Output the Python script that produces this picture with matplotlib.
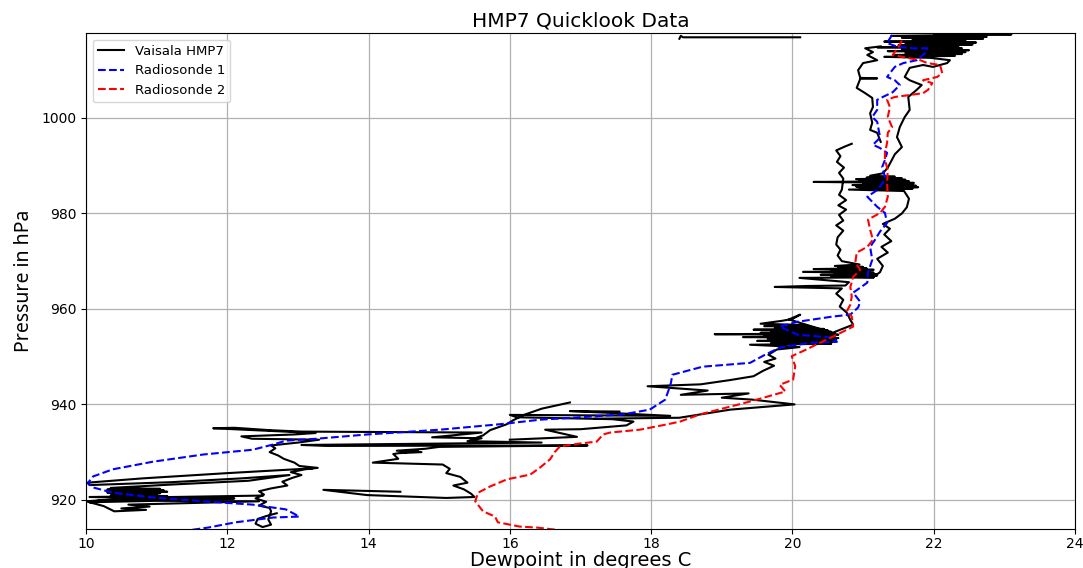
import numpy as np
import matplotlib
matplotlib.use("agg")
import matplotlib.pyplot as plt

# Radiosonde 1 profile (dewpoint degC, pressure hPa), top to bottom
rs1_dewpoint = [21.41, 21.34, 21.49, 21.71, 21.91, 21.88, 21.76, 21.57, 21.45, 21.38,
                21.34, 21.45, 21.52, 21.42, 21.28, 21.20, 21.20, 21.13, 21.20, 21.24,
                21.21, 21.14, 21.24, 21.34, 21.31, 21.27, 21.31, 21.28, 21.20, 21.06,
                21.20, 21.31, 21.34, 21.24, 21.17, 21.10, 21.13, 21.07, 21.06, 20.86,
                20.96, 20.93, 20.82, 20.57, 20.07, 19.82, 20.07, 20.57, 20.63, 20.25,
                19.82, 19.60, 19.40, 18.73, 18.30, 18.28, 18.25, 18.20, 17.98, 17.60,
                16.89, 16.43, 15.90, 15.01, 13.98, 13.26, 12.83, 12.65, 12.36, 11.66,
                10.95, 10.38, 10.10, 10.03, 10.10, 10.38, 10.95, 11.66, 12.36, 12.83,
                13.02, 12.65, 12.12, 11.73, 11.30]
rs1_pressure = [1017.4, 1015.7, 1014.9, 1014.6, 1014.6, 1013.6, 1012.1, 1011.5, 1010.7, 1009.4,
                1008.6, 1007.9, 1006.9, 1005.4, 1004.4, 1003.8, 1001.7, 1000.2, 999.2, 996.0,
                995.4, 994.4, 993.7, 992.7, 991.2, 989.7, 987.7, 986.4, 984.9, 983.5,
                981.4, 980.1, 978.0, 976.2, 974.5, 973.0, 970.3, 967.6, 965.5, 963.4,
                961.5, 960.3, 958.8, 958.4, 957.3, 956.3, 954.6, 954.0, 953.1, 952.9,
                951.9, 950.3, 948.7, 947.9, 946.2, 944.5, 943.1, 941.0, 938.9, 937.9,
                937.2, 936.8, 935.9, 934.7, 933.7, 932.8, 932.4, 931.6, 930.5, 929.5,
                928.0, 926.4, 924.9, 923.6, 922.6, 921.5, 920.5, 919.7, 919.0, 918.0,
                916.5, 916.3, 915.3, 914.2, 913.3]

# Radiosonde 2 profile
rs2_dewpoint = [21.55, 21.52, 21.42, 21.62, 21.81, 21.91, 22.09, 22.12, 22.05, 21.85,
                21.98, 21.92, 21.85, 21.66, 21.45, 21.34, 21.38, 21.35, 21.41, 21.35,
                21.34, 21.31, 21.31, 21.35, 21.34, 21.35, 21.31, 21.24, 21.07, 21.10,
                21.14, 21.06, 20.91, 20.89, 20.96, 20.86, 20.82, 20.84, 20.82, 20.77,
                20.84, 20.86, 20.63, 20.39, 20.14, 19.99, 20.04, 20.01, 19.82, 19.90,
                19.40, 18.69, 18.41, 18.22, 17.84, 17.42, 17.32, 17.23, 16.99, 16.71,
                16.64, 16.57, 16.43, 16.29, 15.96, 15.72, 15.55, 15.51, 15.62, 15.79,
                15.83, 16.14, 16.38, 16.80]
rs2_pressure = [1016.2, 1015.3, 1013.2, 1012.6, 1012.1, 1011.5, 1011.1, 1009.4, 1008.6, 1007.9,
                1007.3, 1005.9, 1005.2, 1004.8, 1004.4, 1003.8, 1002.3, 1000.2, 998.1, 996.9,
                994.8, 992.7, 991.2, 989.1, 986.4, 983.5, 981.4, 980.1, 978.7, 976.6,
                974.5, 973.0, 971.8, 969.7, 968.2, 966.7, 964.6, 962.6, 960.9, 959.5,
                958.4, 956.3, 954.6, 952.9, 951.1, 950.1, 948.0, 945.2, 944.1, 942.7,
                940.6, 937.9, 936.4, 935.8, 934.7, 934.1, 933.7, 932.2, 931.8, 931.2,
                930.1, 928.5, 926.8, 925.3, 924.3, 922.8, 921.5, 919.7, 917.6, 916.5,
                915.3, 914.4, 914.2, 913.5]

# Vaisala HMP7 trace, stored as recorded pieces of (dewpoint, pressure)
hmp7_segments = [
    [(12.70, 917.2), (12.55, 916.6), (12.43, 916.0), (12.40, 915.0), (12.50, 914.3),
     (12.62, 914.8), (12.58, 915.9), (12.62, 917.6), (12.60, 918.3), (12.45, 918.8),
     (12.55, 919.6), (12.40, 920.3), (12.52, 921.1), (12.45, 921.8), (12.62, 922.4),
     (12.85, 923.0), (12.78, 923.8), (12.92, 924.6), (13.05, 925.2), (12.90, 925.8),
     (13.10, 926.4), (13.28, 926.7), (13.02, 927.1), (12.95, 927.8), (12.80, 928.6),
     (12.72, 929.3), (12.60, 930.0), (12.68, 930.8), (12.62, 931.4), (13.00, 932.0),
     (13.30, 932.6), (12.35, 932.8), (12.20, 933.3), (12.95, 933.7), (13.25, 934.0),
     (11.80, 935.0), (12.10, 935.1), (12.60, 934.6), (13.05, 934.3), (15.60, 934.1),
     (14.90, 933.1), (15.60, 932.9), (15.40, 932.3), (16.45, 932.0), (13.05, 931.5),
     (13.40, 931.3), (17.10, 931.4), (15.00, 931.1), (14.80, 930.7), (14.40, 930.3),
     (14.75, 930.0), (14.45, 929.8), (14.70, 930.4), (14.35, 929.6), (14.42, 928.6),
     (14.06, 927.8), (15.05, 927.4), (15.15, 926.5), (15.10, 925.6), (15.30, 924.8),
     (15.40, 923.6), (15.20, 923.0), (15.35, 922.2), (15.45, 921.3), (15.50, 920.6),
     (15.10, 920.4), (13.98, 921.0), (13.36, 922.1), (14.45, 921.7)],
    [(13.20, 926.6), (12.00, 925.6), (10.80, 924.5), (10.02, 923.6), (10.05, 923.1),
     (11.20, 923.7), (12.20, 924.5), (12.88, 925.2), (12.30, 924.0), (11.20, 923.2),
     (10.35, 922.5), (11.05, 922.3), (10.30, 922.15), (11.10, 922.0), (10.45, 921.85),
     (11.15, 921.7), (10.30, 921.55), (11.05, 921.4), (10.40, 921.25), (11.00, 921.1),
     (10.35, 920.95), (11.15, 920.8), (10.05, 920.6), (10.70, 920.4), (12.10, 920.3),
     (11.30, 920.1), (10.20, 919.9), (10.05, 919.5), (11.00, 919.8), (12.45, 919.7),
     (11.40, 919.3), (10.60, 919.0), (10.90, 918.6), (10.50, 918.2), (10.85, 917.9),
     (10.40, 917.6), (10.25, 918.7), (10.00, 919.7), (10.80, 920.5), (12.50, 920.9)],
    [(15.45, 932.6), (15.62, 933.5), (15.72, 934.6), (15.95, 935.8), (16.05, 936.7),
     (16.20, 937.8), (16.45, 939.1), (16.85, 940.4)],
    [(16.00, 932.6), (16.95, 933.2), (16.50, 934.7), (17.00, 934.8), (17.65, 935.6),
     (17.75, 936.4), (17.45, 936.9), (16.10, 937.3), (16.00, 937.8), (18.27, 937.6),
     (17.30, 938.3), (16.85, 938.6), (17.55, 938.5)],
    [(17.20, 937.0), (18.40, 937.2), (19.12, 938.9), (20.03, 940.0), (19.43, 941.0),
     (19.00, 941.4), (19.38, 942.3), (18.42, 942.0), (18.80, 942.9), (17.95, 943.8),
     (18.70, 944.2), (19.12, 945.1), (19.45, 945.9), (19.58, 947.0), (19.74, 948.1),
     (19.60, 948.9), (19.76, 949.6), (19.66, 950.4), (19.78, 951.5), (20.10, 952.0),
     (19.40, 952.5), (20.55, 952.7), (19.70, 952.9), (20.60, 953.1), (19.50, 953.3),
     (20.62, 953.5), (19.65, 953.7), (20.65, 953.9), (19.30, 954.1), (20.60, 954.3),
     (19.60, 954.45), (20.65, 954.6), (18.90, 954.7), (20.60, 954.85), (19.55, 955.0),
     (20.55, 955.2), (19.70, 955.35), (20.50, 955.5), (19.45, 955.65), (20.45, 955.8),
     (19.75, 956.0), (20.30, 956.2), (19.60, 956.4), (20.20, 956.6), (19.55, 956.9),
     (19.85, 957.5), (20.00, 957.9), (20.11, 958.8), (19.95, 957.8), (20.57, 955.0),
     (20.67, 955.6), (20.86, 956.7), (20.82, 957.7), (20.77, 959.2), (20.67, 960.5),
     (20.72, 961.9), (20.62, 963.2), (20.70, 964.3), (19.75, 964.6), (20.20, 964.8),
     (20.75, 964.9), (20.80, 965.6), (20.10, 966.5), (21.15, 966.6), (20.55, 966.8),
     (21.20, 967.0), (20.40, 967.15), (21.18, 967.3), (20.60, 967.45), (21.15, 967.6),
     (20.15, 967.75), (21.10, 967.9), (20.55, 968.05), (21.15, 968.2), (20.30, 968.35),
     (21.05, 968.5), (20.65, 968.65), (21.00, 968.8), (20.60, 969.0), (20.95, 969.3),
     (20.70, 970.0), (20.64, 971.2), (20.68, 972.4), (20.62, 973.5), (20.64, 975.0),
     (20.72, 976.4), (20.62, 977.5), (20.72, 978.5), (20.66, 979.7), (20.76, 980.8),
     (20.65, 981.7), (20.76, 982.8), (20.66, 983.9), (20.70, 985.0), (20.72, 987.3),
     (20.66, 988.5), (20.73, 989.6), (20.63, 990.8), (20.68, 992.0), (20.62, 993.2),
     (20.74, 994.0), (20.84, 994.6)],
    [(21.15, 966.7), (21.24, 967.7), (21.28, 969.0), (21.20, 970.5), (21.35, 971.8),
     (21.26, 973.0), (21.40, 974.2), (21.30, 975.6), (21.38, 976.8), (21.28, 977.8),
     (21.45, 978.9), (21.55, 980.0), (21.62, 981.3), (21.65, 983.1), (21.58, 984.7),
     (20.80, 985.0), (21.70, 985.2), (20.95, 985.35), (21.78, 985.5), (20.90, 985.65),
     (21.75, 985.8), (20.85, 985.95), (21.70, 986.1), (21.00, 986.25), (21.72, 986.4),
     (20.30, 986.6), (21.65, 986.75), (20.95, 986.9), (21.60, 987.05), (20.90, 987.2),
     (21.55, 987.35), (21.05, 987.5), (21.45, 987.7), (21.10, 987.9), (21.28, 988.4),
     (21.35, 989.6), (21.40, 991.0), (21.45, 992.4), (21.55, 993.9), (21.48, 996.0),
     (21.52, 998.1), (21.59, 1000.2), (21.66, 1001.7), (21.64, 1004.4), (21.76, 1005.9),
     (21.83, 1006.9), (21.66, 1007.9), (21.59, 1008.6), (21.66, 1010.5), (21.85, 1011.1),
     (21.99, 1010.7), (22.19, 1011.5), (22.23, 1012.1), (21.95, 1012.6), (21.30, 1012.8),
     (22.30, 1013.0), (21.45, 1013.2), (22.40, 1013.4), (21.60, 1013.6), (22.45, 1013.8),
     (21.35, 1014.0), (22.50, 1014.2), (21.55, 1014.4), (22.40, 1014.6), (21.20, 1014.8),
     (22.35, 1015.0), (21.50, 1015.2), (22.55, 1015.4), (21.60, 1015.6), (22.60, 1015.8),
     (21.30, 1016.0), (22.45, 1016.2), (21.70, 1016.4), (22.70, 1016.6), (21.55, 1016.8),
     (22.75, 1017.0), (21.40, 1017.2), (23.10, 1017.5), (22.00, 1017.7), (22.60, 1017.9)],
    [(21.25, 1015.0), (21.03, 1014.6), (21.14, 1013.8), (21.06, 1013.2), (21.20, 1012.1),
     (21.00, 1011.5), (20.93, 1010.0), (20.96, 1008.4), (21.20, 1008.3), (20.96, 1008.2),
     (20.91, 1006.3), (21.03, 1005.2), (21.13, 1004.2), (21.14, 1002.3), (21.10, 1001.0),
     (21.13, 999.0), (21.10, 997.5), (21.20, 996.9), (21.25, 995.0)],
    [(18.40, 1016.6), (18.42, 1017.2), (18.45, 1016.9), (20.11, 1016.9)],
]

# join the pieces with NaN gaps so they draw as one line
hmp7 = []
for seg in hmp7_segments:
    hmp7.extend(seg)
    hmp7.append((np.nan, np.nan))
hmp7 = np.array(hmp7[:-1])

fig = plt.figure(figsize=(10.83, 5.68), dpi=100)
ax = fig.add_axes([0.0794, 0.0687, 0.9132, 0.8732])

ax.plot(hmp7[:, 0], hmp7[:, 1], color='black', linewidth=1.5, label='Vaisala HMP7')
ax.plot(rs1_dewpoint, rs1_pressure, color='blue', linestyle='--', linewidth=1.5,
        label='Radiosonde 1')
ax.plot(rs2_dewpoint, rs2_pressure, color='red', linestyle='--', linewidth=1.5,
        label='Radiosonde 2')

ax.set_xlim(10, 24)
ax.set_ylim(913.9, 1017.8)
ax.set_xticks(np.arange(10, 25, 2))
ax.set_yticks(np.arange(920, 1001, 20))
ax.tick_params(labelsize=10)
ax.tick_params(axis='x', pad=2)
ax.grid(True, color='#b0b0b0', linewidth=0.9)

ax.set_title('HMP7 Quicklook Data', fontsize=14.5, pad=5)
ax.set_xlabel('Dewpoint in degrees C', fontsize=14, labelpad=0)
ax.set_ylabel('Pressure in hPa', fontsize=14, family='Noto Sans', labelpad=5)
ax.legend(loc='upper left', fontsize=9.5)

fig.savefig('out.png', dpi=100)
